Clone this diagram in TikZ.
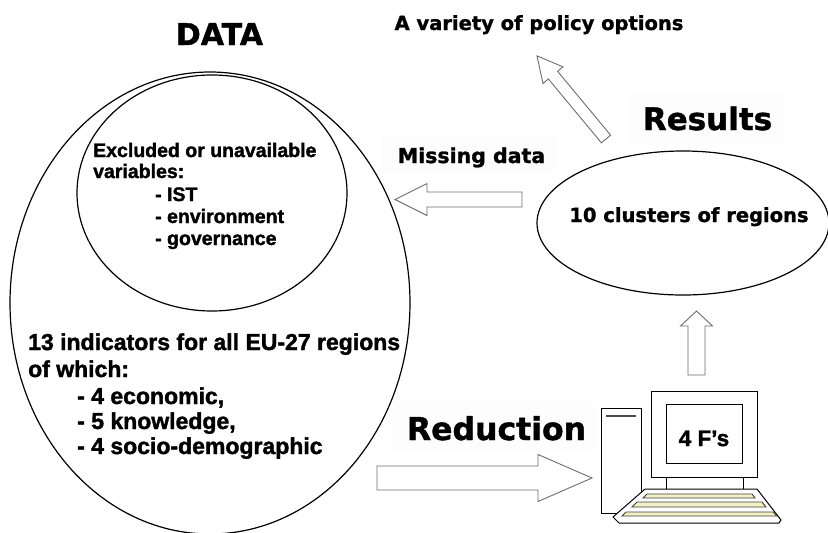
\documentclass[tikz,border=0pt]{standalone}
\usepackage{fontspec}
\setmainfont{Liberation Sans}[BoldFeatures={FakeBold=1.6}]
\newfontfamily\dvs{DejaVu Sans}[BoldFeatures={FakeBold=1.2}]
\usetikzlibrary{shapes.geometric}
\definecolor{arrowgray}{HTML}{6E6E6E}
\definecolor{keycream}{HTML}{F4EFC4}
\definecolor{faintbg}{HTML}{FDFDFD}
\tikzset{
  ring/.style={draw=black, line width=1.2pt, ellipse, inner sep=0pt},
  barrow/.style={draw=arrowgray, line width=0.9pt, fill=white, line join=miter},
  libtxt/.style={inner sep=0pt, anchor=base west, font=\bfseries\fontsize{#1}{#1}\selectfont},
  dvstxt/.style={inner sep=0pt, anchor=base, font=\dvs\bfseries\fontsize{#1}{#1}\selectfont},
  faint/.style={fill=faintbg, draw=none},
  pcline/.style={draw=black, line width=1pt, fill=white},
  keystripe/.style={draw=black!75, line width=0.9pt, fill=keycream}
}
\newcommand\blockarr[7]{%
  \begin{scope}[shift={(#1,#2)},rotate=#3]
    \draw[barrow] (0,-#5) -- ({#4-#7},-#5) -- ({#4-#7},-#6) -- (#4,0)
      -- ({#4-#7},#6) -- ({#4-#7},#5) -- (0,#5) -- cycle;
  \end{scope}}
\begin{document}
\begin{tikzpicture}[x=1pt,y=-1pt]
\useasboundingbox (0,0) rectangle (828,533);
\clip (0,0) rectangle (828,533);
\fill[white] (0,0) rectangle (828,533);

% faint text boxes
\fill[faint] (382,135) rectangle (558,173);
\fill[faint] (628,93) rectangle (785,143);
\fill[faint] (393,402) rectangle (597,452);

% ellipses
\node[ring, minimum width=400pt, minimum height=462pt] (data) at (210,303) {};
\node[ring, minimum width=270pt, minimum height=236pt] (excl) at (212,193) {};
\node[ring, minimum width=292pt, minimum height=144pt] (clusters) at (683,223) {};

% titles
\node[dvstxt=30] (datatitle) at (219.5,45) {DATA};
\node[dvstxt=19.5] (policy) at (539,30) {A variety of policy options};
\node[dvstxt=31] (results) at (707.5,130) {Results};
\node[dvstxt=20.5] (missing) at (471.5,163) {Missing data};
\node[dvstxt=19.5] (clutxt) at (689,222) {10 clusters of regions};
\node[dvstxt=31.5] (reduction) at (496.5,440) {Reduction};

% inner ellipse text
\node[libtxt=19.5] (ex1) at (93,157) {Excluded or unavailable};
\node[libtxt=19.5] (ex2) at (93,178) {variables:};
\node[libtxt=19.5] (ex3) at (155,201) {- IST};
\node[libtxt=19.5] (ex4) at (155,223) {- environment};
\node[libtxt=19.5] (ex5) at (155,245) {- governance};

% outer ellipse text
\node[libtxt=23] (in1) at (28,350) {13 indicators for all EU-27 regions};
\node[libtxt=23] (in2) at (28,377) {of which:};
\node[libtxt=23] (in3) at (77,404) {- 4 economic,};
\node[libtxt=23] (in4) at (77,429) {- 5 knowledge,};
\node[libtxt=23] (in5) at (77,454) {- 4 socio-demographic};

% block arrows
\blockarr{522}{199.5}{180}{127}{7.5}{16}{32}
\blockarr{377}{478}{0}{215}{12}{23.5}{54}
\blockarr{696.5}{375}{90}{64}{8.5}{16}{15}
\blockarr{606}{139}{129.7}{108}{6}{13}{25}

% computer
\draw[pcline] (601,408) rectangle (641,513);
\draw[draw=black!70, line width=1.6pt] (606,416) -- (636,416);
\draw[pcline] (666,477) rectangle (743,489);
\draw[pcline] (651,391) rectangle (757,477);
\node[draw=black, line width=1pt, fill=white, minimum width=76pt, minimum height=59pt, inner sep=0pt] (screen) at (704,433.5) {};
\node[libtxt=22.5, anchor=base] (ffs) at (704,446) {4 F’s};
\draw[pcline, line join=round] (645,489) -- (757,489) -- (781,520) -- (779,523)
  -- (619,523) -- (613,517) -- cycle;
\draw[keystripe] (647,494) -- (752,494) -- (755,498) -- (643,498) -- cycle;
\draw[keystripe] (637,502) -- (762,502) -- (766,507) -- (632,507) -- cycle;
\draw[keystripe] (626,512) -- (773,512) -- (777,516) -- (622,516) -- cycle;
\end{tikzpicture}
\end{document}
